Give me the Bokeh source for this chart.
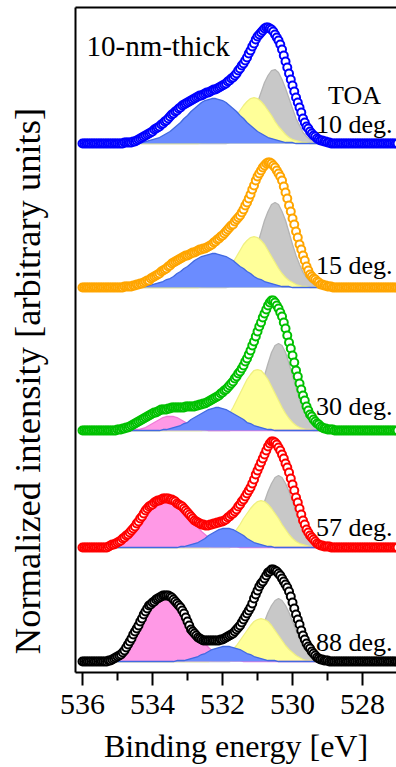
from bokeh.plotting import figure
from bokeh.models import Range1d, LinearAxis, FixedTicker, Label
from bokeh.embed import file_html
from bokeh.resources import INLINE

FONT = "Liberation Serif"

# ---------------- data ----------------
angle_labels = ["10 deg.", "15 deg.", "30 deg.", "57 deg.", "88 deg."]
series_colors = ["#0000ff", "#ffa500", "#00c000", "#ff0000", "#000000"]
panel_offsets = [529, 385, 242, 125, 11]
x_ticks = [536, 534, 532, 530, 528]
x_minor = [535, 533, 531, 529, 527]

# measured spectra, 0.05 eV steps starting at 536.0 eV
data_start, data_step = 536.0, 0.05
data_10 = [0,0,0,0,0,0,0,0,0,0,0,0,
           0,0,0,0,0,0,0,0,0,0,0,0,1,1,1,1,1,2,2,3,4,5,6,7,8,9,10,11,12,14,15,16,17,19,20,22,23,25,27,29,30,32,33,35,36,38,39,40,41,42,43,44,45,46,47,48,48,49,50,51,51,52,53,54,54,55,56,57,58,59,60,62,63,65,66,68,70,73,75,78,80,83,86,90,93,97,100,104,107,109,111,113,115,116,116,115,114,112,109,106,103,99,94,88,82,76,70,64,58,52,46,41,36,31,25,21,17,15,12,10,8,7,5,4,3,3,2,2,1,1,0,0,0,0,0,0,0,
           0,0,0,0,0,0,0,0,0,0,0,0,0,0,0,0,0,0,0,0,0,0,0,0,0,0,0,0,0,0,0,0]
data_15 = [0,0,0,0,0,0,0,0,0,0,0,0,
           0,0,0,0,0,0,0,0,0,0,0,0,1,1,1,1,1,2,2,3,3,4,4,5,6,7,7,9,10,11,12,13,14,16,17,18,19,21,22,24,25,26,27,28,29,30,31,32,32,33,34,35,35,36,37,38,38,39,39,40,41,42,43,45,46,48,49,51,52,54,56,58,60,62,63,66,68,70,72,75,78,82,85,89,93,98,102,107,111,114,117,120,122,124,125,125,124,122,120,117,114,111,107,101,95,89,82,76,69,63,56,50,43,38,32,27,21,17,13,11,9,8,6,5,3,3,2,2,1,1,1,0,0,0,0,0,0,0,
           0,0,0,0,0,0,0,0,0,0,0,0,0,0,0,0,0,0,0,0,0,0,0,0,0,0,0,0,0,0,0,0]
data_30 = [0,0,0,0,0,0,0,0,0,0,0,0,
           0,0,0,0,0,0,0,0,1,1,1,2,2,3,3,4,5,6,7,8,9,10,11,12,13,14,15,16,17,18,18,19,20,21,21,21,21,22,22,23,23,23,23,23,23,23,23,24,24,24,24,24,24,25,25,26,26,27,27,28,29,30,31,32,33,34,35,37,38,40,41,43,45,47,49,52,54,57,59,62,65,69,72,76,80,85,89,94,99,104,108,113,117,121,125,128,130,130,128,125,122,118,114,108,102,95,88,82,75,68,60,54,47,41,35,30,24,20,16,14,11,9,7,6,4,3,2,2,1,1,1,1,0,0,0,0,0,
           0,0,0,0,0,0,0,0,0,0,0,0,0,0,0,0,0,0,0,0,0,0,0,0,0,0,0,0,0,0,0,0]
data_57 = [0,0,0,0,0,0,0,0,0,0,0,0,
           0,0,0,1,2,3,3,4,5,6,7,9,10,12,13,15,17,19,21,24,26,29,31,34,37,39,41,42,43,45,46,47,47,48,49,49,49,49,48,48,47,46,44,43,42,41,39,37,35,33,31,29,27,26,25,24,23,23,22,22,22,23,23,24,24,25,25,26,26,27,28,30,31,33,34,36,38,41,43,46,48,51,54,57,60,64,68,73,77,81,85,89,93,97,101,104,106,106,105,103,100,97,93,89,84,80,75,69,63,57,50,45,39,33,27,23,18,15,12,10,8,6,4,3,2,2,1,1,1,1,0,0,0,0,0,0,0,
           0,0,0,0,0,0,0,0,0,0,0,0,0,0,0,0,0,0,0,0,0,0,0,0,0,0,0,0,0,0,0,0]
data_88 = [0,0,0,0,0,0,0,0,0,0,0,0,0,0,0,1,1,2,3,4,5,6,7,9,11,14,17,20,23,27,30,33,36,40,43,47,50,53,56,57,59,60,62,63,64,65,66,66,66,66,65,64,62,60,58,56,54,51,48,44,40,36,32,30,28,26,24,23,22,21,21,21,21,21,21,21,21,21,21,22,22,23,24,25,26,27,28,30,32,34,36,39,42,45,48,51,54,58,63,67,71,75,78,80,83,86,89,90,92,92,91,90,88,86,83,80,77,74,70,65,59,53,47,42,37,31,26,22,18,15,13,10,8,6,4,3,2,2,1,1,1,0,
           0,0,0,0,0,0,0,0,0,0,0,0,0,0,0,0,0,0,0,0,0,0,0,0,0,0,0,0,0,0,0,0,0,0,0,0,0,0,0,0]

# fitted components, 0.1 eV steps starting at 535.4 eV
comp_start, comp_step = 535.4, 0.1
gray_10 = [0,0,0,0,0,0,0,0,0,0, 0,0,0,0,0,0,0,0,0,0, 0,0,0,0,0,0,0,0,0,0, 0,0,0,0,0,0, 1,2,3,6,10,15,22,31,41,51,61,68,73,74,71,64,55,45,35,25,18,11,7,4,2,1,1]
gray_15 = [0,0,0,0,0,0,0,0,0,0, 0,0,0,0,0,0,0,0,0,0, 0,0,0,0,0,0,0,0,0,0, 0,0,0,0,0,0, 1,2,3,6,10,15,23,32,43,55,67,76,83,85,83,76,67,55,43,32,23,15,10,6,3,2,1]
gray_30 = [0,0,0,0,0,0,0,0,0,0, 0,0,0,0,0,0,0,0,0,0, 0,0,0,0,0,0,0,0,0,0, 0,0,0,0,0,0,0, 1,1,3,5,9,14,22,31,43,55,67,78,85,87,85,78,67,55,43,31,22,14,9,5,3,1]
gray_57 = [0,0,0,0,0,0,0,0,0,0, 0,0,0,0,0,0,0,0,0,0, 0,0,0,0,0,0,0,0,0,0, 0,0,0,0,0,0,0, 1,1,2,4,7,12,18,26,35,46,56,64,70,72,70,64,56,46,35,26,18,12,7,4,2,1]
gray_88 = [0,0,0,0,0,0,0,0,0,0, 0,0,0,0,0,0,0,0,0,0, 0,0,0,0,0,0,0,0,0,0, 0,0,0,0,0,0,0, 1,1,2,4,6,10,16,23,31,40,49,56,61,63,61,56,49,40,31,23,16,10,6,4,2,1]
yellow_10 = [0,0,0,0,0,0,0,0,0,0, 0,0,0,0,0,0,0,0,0,0, 0,0,0,0,0,0,0,0, 1,1,2,3,4,6,9,13,17,22,28,33,38,42,45,46,45,42,38,33,28,22,17,13,9,6,4,3,2,1,1,0,0,0,0]
yellow_15 = [0,0,0,0,0,0,0,0,0,0, 0,0,0,0,0,0,0,0,0,0, 0,0,0,0,0,0,0,0, 1,1,2,3,5,7,10,14,19,25,31,37,43,47,50,51,50,47,43,37,31,25,19,14,10,7,5,3,2,1,1,0,0,0,0]
yellow_30 = [0,0,0,0,0,0,0,0,0,0, 0,0,0,0,0,0,0,0,0,0, 0,0,0,0,0,0,0,0,0, 1,1,2,3,5,8,12,17,23,30,37,44,51,56,60,61,60,56,51,44,37,30,23,17,12,8,5,3,2,1,1,0,0,0]
yellow_57 = [0,0,0,0,0,0,0,0,0,0, 0,0,0,0,0,0,0,0,0,0, 0,0,0,0,0,0,0,0,0,0, 0, 1,2,3,4,6,9,13,18,23,29,34,39,43,46,47,46,43,39,34,29,23,18,13,9,6,4,3,2,1,0,0,0]
yellow_88 = [0,0,0,0,0,0,0,0,0,0, 0,0,0,0,0,0,0,0,0,0, 0,0,0,0,0,0,0,0,0,0, 0, 1,1,2,4,6,9,12,16,21,26,31,36,40,42,43,42,40,36,31,26,21,16,12,9,6,4,2,1,1,0,0,0]
pink_30 = [0,0,0,0,0,0,0,0,0, 1,1,2,3,5,7,9,11,13,14,14,14,13,11,9,7,5,3,2,1,1, 0,0,0,0,0,0,0,0,0,0, 0,0,0,0,0,0,0,0,0,0, 0,0,0,0,0,0,0,0,0,0, 0,0,0]
pink_57 = [1,2,3,4,6,8,10,13,16,20,24,28,32,36,40,43,45,46,47,46,45,43,40,36,32,28,24,20,16,13,10,8,6,4,3,2,1,1,1, 0,0,0,0,0,0,0,0,0,0, 0,0,0,0,0,0,0,0,0,0, 0,0,0,0]
pink_88 = [2,3,4,6,8,11,14,18,22,27,33,39,45,50,56,60,63,65,66,65,63,60,56,50,45,39,33,27,22,18,14,11,8,6,4,3,2,1,1,1, 0,0,0,0,0,0,0,0,0,0, 0,0,0,0,0,0,0,0,0,0, 0,0,0]
blue_10 = [0,0,0,0,0,0,0,0,0, 1,1,1,2,3,4,5,6,8,10,12,15,18,21,25,28,32,35,38,41,43,44,45,45,44,43,41,38,35,32,28,25,21,18,15,12,10,8,6,5,4,3,2,1,1,1, 0,0,0,0,0,0,0,0]
blue_15 = [0,0,0,0,0,0,0,0,0,0, 1,1,1,2,3,4,5,6,8,9,11,14,16,19,21,24,27,29,31,32,33,34,34,33,32,31,29,27,24,21,19,16,14,11,9,8,6,5,4,3,2,1,1,1, 0,0,0,0,0,0,0,0,0]
blue_30 = [0,0,0,0,0,0,0,0,0,0, 0,0,0,0,0,0,0, 1,1,2,3,4,5,7,8,11,13,15,17,19,21,22,23,23,22,21,19,17,15,13,11,8,7,5,4,3,2,1,1, 0,0,0,0,0,0,0,0,0,0,0,0,0,0]
blue_57 = [0,0,0,0,0,0,0,0,0,0, 0,0,0,0,0,0,0,0,0,0, 0,0, 1,1,2,3,4,5,7,9,12,14,16,18,19,19,19,18,16,14,12,9,7,5,4,3,2,1,1, 0,0,0,0,0,0,0,0,0,0,0,0,0,0]
blue_88 = [0,0,0,0,0,0,0,0,0,0, 0,0,0,0,0,0,0,0,0,0, 0, 1,1,1,2,3,4,5,7,8,10,12,13,14,15,15,15,14,13,12,10,8,7,5,4,3,2,1,1,1, 0,0,0,0,0,0,0,0,0,0,0,0,0]

panels = [
    (data_10, [("gray", gray_10), ("yellow", yellow_10), ("blue", blue_10)]),
    (data_15, [("gray", gray_15), ("yellow", yellow_15), ("blue", blue_15)]),
    (data_30, [("gray", gray_30), ("yellow", yellow_30), ("pink", pink_30), ("blue", blue_30)]),
    (data_57, [("gray", gray_57), ("yellow", yellow_57), ("pink", pink_57), ("blue", blue_57)]),
    (data_88, [("gray", gray_88), ("yellow", yellow_88), ("pink", pink_88), ("blue", blue_88)]),
]

comp_fill = {"gray": "#c8c8c8", "yellow": "#ffff99", "pink": "#ff99e6", "blue": "#6b8cff"}
comp_line = {"gray": "#b4b4b4", "yellow": "#f0f080", "pink": "#f07ad7", "blue": "#4169e1"}

# ---------------- figure ----------------
p = figure(width=396, height=767, x_range=Range1d(536.2, 527.03), y_range=Range1d(0, 665),
           output_backend="svg", toolbar_location=None,
           x_axis_location=None, y_axis_location=None,
           min_border_left=75, min_border_right=0, min_border_top=7, min_border_bottom=95)
p.outline_line_color = None
p.xgrid.visible = False
p.ygrid.visible = False

for (data, comps), off, col in zip(panels, panel_offsets, series_colors):
    for name, vals in comps:
        ex = [round(comp_start - comp_step * i, 3) for i in range(len(vals))]
        top = [off + v for v in vals]
        p.varea(x=ex, y1=[off] * len(vals), y2=top, fill_color=comp_fill[name])
        p.line(ex, top, line_color=comp_line[name], line_width=1.3)
    ed = [round(data_start - data_step * i, 3) for i in range(len(data))]
    p.scatter(ed, [off + v for v in data], marker="circle", size=8, line_color=col,
              line_width=2, fill_color="white")

xa = LinearAxis(ticker=FixedTicker(ticks=x_ticks, minor_ticks=x_minor), axis_label="Binding energy [eV]")
xa.axis_line_width = 2
xa.major_tick_line_width = 2
xa.minor_tick_line_width = 2
xa.major_tick_in = 0
xa.major_tick_out = 13
xa.minor_tick_in = 0
xa.minor_tick_out = 8
xa.major_label_text_font = FONT
xa.major_label_text_font_size = "30px"
xa.major_label_text_color = "black"
xa.major_label_standoff = 9
xa.axis_label_text_font = FONT
xa.axis_label_text_font_size = "32px"
xa.axis_label_text_font_style = "normal"
xa.axis_label_text_color = "black"
xa.axis_label_standoff = 11
p.add_layout(xa, "below")

# left border; its label is padded at the far end with no-break spaces so the
# visible words sit lower along the axis, as in the reference
ya = LinearAxis(ticker=FixedTicker(ticks=[]),
                axis_label="Normalized intensity [arbitrary units]" + "\u00a0" * 9)
ya.axis_line_width = 2
ya.major_tick_line_color = None
ya.minor_tick_line_color = None
ya.major_label_text_color = None
ya.axis_label_text_font = FONT
ya.axis_label_text_font_size = "36.5px"
ya.axis_label_text_font_style = "normal"
ya.axis_label_text_color = "black"
ya.axis_label_standoff = 28
p.add_layout(ya, "left")

ta = LinearAxis(ticker=FixedTicker(ticks=[]))
ta.axis_line_width = 2
ta.major_tick_line_color = None
ta.minor_tick_line_color = None
ta.major_label_text_color = None
p.add_layout(ta, "above")

p.add_layout(Label(x=535.886, y=627, text="10-nm-thick", text_font=FONT, text_font_size="29px",
                   text_color="black", text_baseline="alphabetic"))
p.add_layout(Label(x=528.23, y=577, text="TOA", text_font=FONT, text_font_size="26px",
                   text_color="black", text_align="center", text_baseline="alphabetic"))
label_y = [548, 407, 266, 145, 30]
for t, yy in zip(angle_labels, label_y):
    p.add_layout(Label(x=527.143, y=yy, text=t, text_font=FONT, text_font_size="26px",
                       text_color="black", text_align="right", text_baseline="alphabetic"))

open("out.html", "w").write(file_html(p, INLINE))
